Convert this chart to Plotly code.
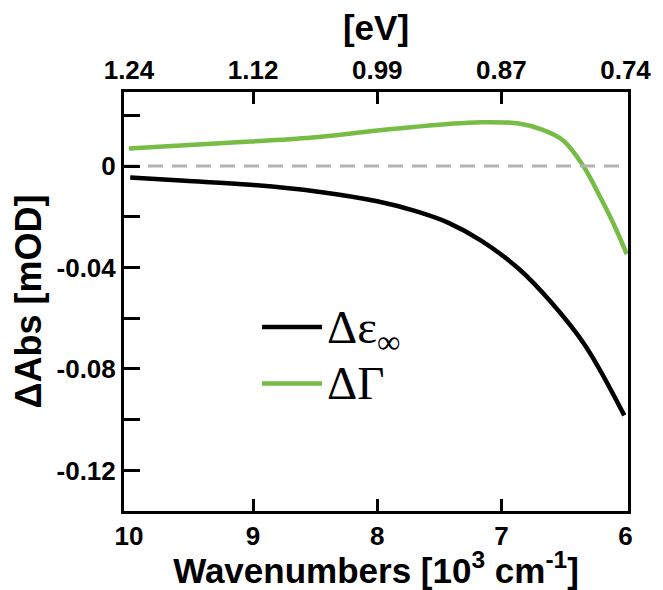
import plotly.graph_objects as go

# Wavenumbers [10^3 cm^-1]
wn_eps = [9.99, 9.55, 9.02, 8.49, 8.0, 7.69, 7.43, 7.16, 6.86, 6.59, 6.32, 6.01]
d_eps = [-0.0045, -0.0058, -0.0074, -0.0100, -0.0139, -0.0178, -0.0223, -0.0295, -0.0405, -0.0542, -0.0711, -0.0983]

wn_gam = [10.0, 9.55, 9.02, 8.49, 8.0, 7.43, 7.16, 6.86, 6.68, 6.50, 6.34, 6.20, 6.08, 5.99]
d_gam = [0.0069, 0.0082, 0.0097, 0.0114, 0.0140, 0.0166, 0.0173, 0.0168, 0.0145, 0.0100, 0.0, -0.0126, -0.0245, -0.0347]

x_ticks = [10, 9, 8, 7, 6]
x_minor_ticks = [9, 8, 7]
x_ticklabels = ["10", "9", "8", "7", "6"]
ev_ticklabels = ["1.24", "1.12", "0.99", "0.87", "0.74"]
y_ticks = [0, -0.04, -0.08, -0.12]
y_ticklabels = ["0", "-0.04", "-0.08", "-0.12"]
y_minor_ticks = [0.02, -0.02, -0.06, -0.10]
zero_x = [10.04, 5.98]
zero_y = [0, 0]

GREEN = "#77bc44"
FONT = "Liberation Sans"
TICKFONT = dict(family=FONT, size=26, color="black", weight="bold")
X_RANGE = [10.04, 5.98]
Y_RANGE = [-0.136, 0.0292]

fig = go.Figure()
fig.add_trace(go.Scatter(x=zero_x, y=zero_y, mode="lines", xaxis="x2",
                         line=dict(color="#b2b2b2", width=3, dash="15px,9px"),
                         showlegend=False, hoverinfo="skip"))
fig.add_trace(go.Scatter(x=wn_eps, y=d_eps, mode="lines",
                         name="<span style='font-size:47px'>Δε<sub>∞</sub></span>",
                         line=dict(color="black", width=4.5, shape="spline", smoothing=1.0)))
fig.add_trace(go.Scatter(x=wn_gam, y=d_gam, mode="lines",
                         name="<span style='font-size:47px'>ΔΓ</span>",
                         line=dict(color=GREEN, width=4.5, shape="spline", smoothing=1.0)))

x_common = dict(showline=True, linecolor="black", linewidth=3,
                ticks="inside", tickcolor="black", tickwidth=3, ticklen=0,
                minor=dict(tickmode="array", tickvals=x_minor_ticks, ticks="inside",
                           ticklen=12, tickwidth=3, tickcolor="black", showgrid=False),
                showgrid=False, zeroline=False, tickfont=TICKFONT,
                range=X_RANGE, tickmode="array", tickvals=x_ticks)

fig.update_layout(
    width=655, height=582,
    margin=dict(l=116, r=25, t=84, b=70),
    paper_bgcolor="white", plot_bgcolor="white",
    xaxis=dict(ticktext=x_ticklabels,
               title=dict(text="Wavenumbers [10<sup>3</sup> cm<sup>-1</sup>]", standoff=2,
                          font=dict(family=FONT, size=35, color="black", weight="bold")),
               **x_common),
    xaxis2=dict(overlaying="x", side="top", ticktext=ev_ticklabels,
                title=dict(text="[eV]", standoff=7,
                           font=dict(family=FONT, size=35, color="black", weight="bold")),
                **x_common),
    yaxis=dict(range=Y_RANGE, tickmode="array", tickvals=y_ticks, ticktext=y_ticklabels,
               showline=True, linecolor="black", linewidth=3, mirror=True,
               ticks="inside", tickcolor="black", tickwidth=3, ticklen=16,
               minor=dict(tickmode="array", tickvals=y_minor_ticks, ticks="inside",
                          ticklen=16, tickwidth=3, tickcolor="black", showgrid=False),
               showgrid=False, zeroline=False, tickfont=TICKFONT,
               title=dict(text="ΔAbs [mOD]", standoff=4,
                          font=dict(family=FONT, size=36, color="black", weight="bold"))),
    legend=dict(x=0.264, y=0.518, xanchor="left", yanchor="top", bgcolor="rgba(0,0,0,0)",
                font=dict(family="Liberation Serif", size=41, color="black"),
                itemwidth=60, tracegroupgap=0),
    showlegend=True,
)

fig.write_html("out.html")
